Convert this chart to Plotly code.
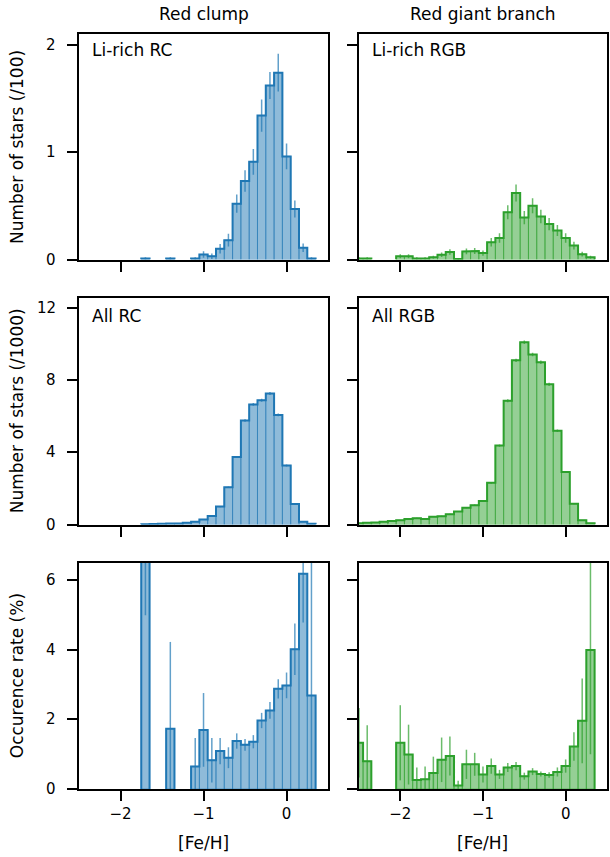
import plotly.graph_objects as go

# ---------------- data ----------------
bin_centers = [-2.5, -2.4, -2.3, -2.2, -2.1, -2.0, -1.9, -1.8, -1.7, -1.6,
               -1.5, -1.4, -1.3, -1.2, -1.1, -1.0, -0.9, -0.8, -0.7, -0.6,
               -0.5, -0.4, -0.3, -0.2, -0.1, 0.0, 0.1, 0.2, 0.3]
bin_width = 0.1

# Li-rich RC (/100)
li_rc = [0, 0, 0, 0, 0, 0, 0, 0, 0.01, 0, 0, 0.01, 0, 0, 0.01, 0.047, 0.03, 0.10,
         0.18, 0.52, 0.73, 0.91, 1.34, 1.62, 1.74, 0.96, 0.47, 0.11, 0.01]
li_rc_err = [0, 0, 0, 0, 0, 0, 0, 0, 0.01, 0, 0, 0.01, 0, 0, 0.01, 0.03, 0.025, 0.045,
             0.06, 0.085, 0.10, 0.12, 0.15, 0.125, 0.175, 0.12, 0.08, 0.04, 0.01]
# Li-rich RGB (/100)
li_rgb = [0.01, 0.01, 0, 0, 0, 0.03, 0.03, 0.01, 0.01, 0.02, 0.045, 0.07, 0.005, 0.075,
          0.08, 0.06, 0.16, 0.2, 0.44, 0.62, 0.39, 0.5, 0.4, 0.33, 0.27, 0.2, 0.13, 0.05, 0.02]
li_rgb_err = [0.01, 0.01, 0, 0, 0, 0.018, 0.018, 0.01, 0.01, 0.014, 0.021, 0.026, 0.007,
              0.027, 0.028, 0.024, 0.04, 0.045, 0.066, 0.079, 0.062, 0.07, 0.063, 0.057,
              0.052, 0.045, 0.036, 0.022, 0.014]
# All RC (/1000)
all_rc = [0, 0, 0, 0, 0, 0, 0, 0, 0.01, 0.03, 0.04, 0.05, 0.06, 0.10, 0.15, 0.28, 0.47,
          0.99, 2.06, 3.74, 5.76, 6.65, 6.88, 7.25, 6.07, 3.27, 1.14, 0.15, 0.04]
all_rc_err = [0, 0, 0, 0, 0, 0, 0, 0, 0.003, 0.005, 0.006, 0.007, 0.008, 0.01, 0.012,
              0.017, 0.02, 0.03, 0.045, 0.06, 0.075, 0.08, 0.083, 0.085, 0.078, 0.057,
              0.034, 0.012, 0.006]
# All RGB (/1000)
all_rgb = [0.07, 0.1, 0.11, 0.15, 0.19, 0.24, 0.3, 0.35, 0.31, 0.43, 0.46, 0.57, 0.72,
           0.93, 1.07, 1.3, 2.31, 4.37, 6.85, 9.09, 10.09, 9.41, 8.98, 7.76, 5.19, 2.91,
           1.15, 0.24, 0.07]
all_rgb_err = [0.008, 0.01, 0.01, 0.012, 0.014, 0.015, 0.017, 0.019, 0.018, 0.021, 0.021,
               0.024, 0.027, 0.03, 0.033, 0.036, 0.048, 0.066, 0.083, 0.095, 0.1, 0.097,
               0.095, 0.088, 0.072, 0.054, 0.034, 0.015, 0.008]
# Occurrence rate RC (%)
rate_rc = [0, 0, 0, 0, 0, 0, 0, 0, 10.0, 0, 0, 1.73, 0, 0, 0.65, 1.7, 0.83, 1.09, 0.9,
           1.38, 1.27, 1.36, 1.97, 2.26, 2.88, 2.98, 4.02, 6.19, 2.69]
rate_rc_err = [0, 0, 0, 0, 0, 0, 0, 0, 5.0, 0, 0, 2.5, 0, 0, 0.82, 1.06, 0.64, 0.38, 0.3,
               0.22, 0.17, 0.19, 0.22, 0.24, 0.28, 0.37, 0.74, 1.4, 4.5]
# Occurrence rate RGB (%)
rate_rgb = [1.33, 0.8, 0, 0, 0, 1.33, 0.99, 0.26, 0.28, 0.46, 0.84, 0.95, 0.1, 0.71, 0.71,
            0.42, 0.66, 0.42, 0.62, 0.66, 0.37, 0.5, 0.43, 0.4, 0.49, 0.66, 1.22, 1.96, 4.0]
rate_rgb_err = [1.0, 1.03, 0, 0, 0, 1.08, 0.86, 0.36, 0.37, 0.47, 0.64, 0.56, 0.14, 0.42,
                0.33, 0.23, 0.22, 0.13, 0.13, 0.12, 0.1, 0.1, 0.07, 0.08, 0.13, 0.19, 0.41,
                1.22, 3.0]

col_titles = ["Red clump", "Red giant branch"]
panel_labels = ["Li-rich RC", "Li-rich RGB", "All RC", "All RGB"]
y_titles = ["Number of stars (/100)", "Number of stars (/1000)", "Occurence rate (%)"]
x_title = "[Fe/H]"
x_ticks = [-2, -1, 0]
x_ticktext = ["\u22122", "\u22121", "0"]
y_ticks_rows = [[0, 1, 2], [0, 4, 8, 12], [0, 2, 4, 6]]
y_ranges = [[0, 2.1], [0, 12.57], [0, 6.5]]
x_range = [-2.5, 0.5]

# ---------------- styling ----------------
BLUE = (31, 119, 180)
GREEN = (44, 160, 44)
FONT = "DejaVu Sans"

W, H = 610, 857
ML, MR, MT, MB = 79, 1, 34, 68
PW, PH = W - ML - MR, H - MT - MB


def px_x(p):
    return (p - ML) / PW


def px_y(p):
    return (H - MB - p) / PH


x_domains = [[0, px_x(329)], [px_x(360), 1]]
y_domains = [[px_y(259.5), 1], [px_y(524.5), px_y(297.5)], [0, px_y(563)]]

panels = [
    (li_rc, li_rc_err, BLUE), (li_rgb, li_rgb_err, GREEN),
    (all_rc, all_rc_err, BLUE), (all_rgb, all_rgb_err, GREEN),
    (rate_rc, rate_rc_err, BLUE), (rate_rgb, rate_rgb_err, GREEN),
]


def rgba(c, a):
    return "rgba(%d,%d,%d,%s)" % (c[0], c[1], c[2], a)


def step_outline(centers, vals, w):
    """Histogram step outline; horizontal runs at zero are left out."""
    xs, ys = [], []
    prev = 0
    for i in range(len(vals)):
        left = centers[i] - w / 2
        right = centers[i] + w / 2
        v = vals[i]
        if v == 0:
            if prev != 0:
                xs += [left, None]
                ys += [0, None]
            prev = 0
            continue
        if prev == 0:
            xs += [left]
            ys += [0]
        xs += [left, right]
        ys += [v, v]
        prev = v
    if prev != 0:
        xs += [centers[-1] + w / 2]
        ys += [0]
    return xs, ys


fig = go.Figure()
for k, (vals, errs, c) in enumerate(panels):
    ax = "" if k == 0 else str(k + 1)
    bx = [x for x, v in zip(bin_centers, vals) if v != 0]
    by = [v for v in vals if v != 0]
    be = [e for e, v in zip(errs, vals) if v != 0]
    fig.add_trace(go.Bar(
        x=bx, y=by, width=bin_width,
        marker=dict(color=rgba(c, 0.5), line=dict(color=rgba(c, 0.55), width=1)),
        error_y=dict(type="data", array=be, visible=True, color=rgba(c, 0.7),
                     thickness=1.5, width=0),
        xaxis="x" + ax, yaxis="y" + ax, showlegend=False, hoverinfo="skip"))
    sx, sy = step_outline(bin_centers, vals, bin_width)
    fig.add_trace(go.Scatter(
        x=sx, y=sy, mode="lines", line=dict(color=rgba(c, 1), width=2),
        connectgaps=False,
        xaxis="x" + ax, yaxis="y" + ax, showlegend=False, hoverinfo="skip"))

layout = dict(
    width=W, height=H, margin=dict(l=ML, r=MR, t=MT, b=MB),
    paper_bgcolor="white", plot_bgcolor="white",
    font=dict(family=FONT, size=15, color="black"),
    barmode="overlay",
)
for k in range(6):
    row, col = k // 2, k % 2
    ax = "" if k == 0 else str(k + 1)
    layout["xaxis" + ax] = dict(
        domain=x_domains[col], range=x_range, anchor="y" + ax,
        tickvals=x_ticks, ticktext=x_ticktext, showticklabels=(row == 2),
        ticks="outside", ticklen=10, tickwidth=2, tickcolor="black",
        showline=True, linecolor="black", linewidth=2, mirror=True,
        showgrid=False, zeroline=False, tickfont=dict(size=15, family=FONT))
    layout["yaxis" + ax] = dict(
        domain=y_domains[row], range=y_ranges[row], anchor="x" + ax,
        tickvals=y_ticks_rows[row], showticklabels=False,
        ticks="outside", ticklen=10, tickwidth=2, tickcolor="black",
        showline=True, linecolor="black", linewidth=2, mirror=True,
        showgrid=False, zeroline=False)

ann = []
# y tick labels for the left column (placed at the axis' own data values)
for row in range(3):
    yref = "y" if row == 0 else "y%d" % (2 * row + 1)
    for tv in y_ticks_rows[row]:
        ann.append(dict(text=str(tv), x=px_x(58), y=tv, xref="paper", yref=yref,
                        showarrow=False, xanchor="right", yanchor="middle",
                        font=dict(size=15, family=FONT)))
for col, t in enumerate(col_titles):
    ann.append(dict(text=t, x=sum(x_domains[col]) / 2, y=px_y(14), xref="paper", yref="paper",
                    showarrow=False, xanchor="center", yanchor="middle",
                    font=dict(size=17, family=FONT)))
    ann.append(dict(text=x_title, x=sum(x_domains[col]) / 2, y=px_y(843), xref="paper",
                    yref="paper", showarrow=False, xanchor="center", yanchor="middle",
                    font=dict(size=17, family=FONT)))
label_pos = [(px_x(90), px_y(50)), (px_x(371.5), px_y(50)),
             (px_x(90), px_y(315.5)), (px_x(371.5), px_y(315.5))]
for lab, (lx, ly) in zip(panel_labels, label_pos):
    ann.append(dict(text=lab, x=lx, y=ly, xref="paper", yref="paper", showarrow=False,
                    xanchor="left", yanchor="middle", font=dict(size=17, family=FONT)))
for row, t in enumerate(y_titles):
    ann.append(dict(text=t, x=px_x(17), y=sum(y_domains[row]) / 2, xref="paper",
                    yref="paper", showarrow=False, xanchor="center", yanchor="middle",
                    textangle=-90, font=dict(size=17, family=FONT)))
layout["annotations"] = ann

fig.update_layout(**layout)
fig.write_html("out.html")
